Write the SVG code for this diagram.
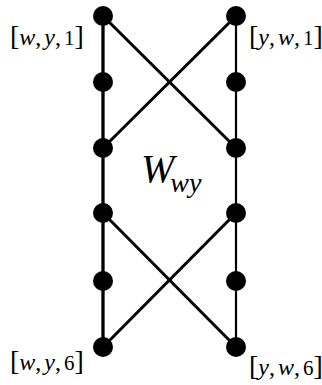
<svg xmlns="http://www.w3.org/2000/svg" width="322" height="385" viewBox="0 0 322 385">
<style>
.lbl{font-family:"Liberation Serif","Times New Roman",serif;font-size:24px;fill:#000}
.it{font-style:italic}
.br{font-size:28px}
.dg{font-size:21px}
.big{font-size:40px}
.sub{font-size:28px}
.e{stroke:#000;fill:none}
.n{fill:#000}
</style>
<rect width="322" height="385" fill="#fff"/>
<g id="connectors">
<line class="e" x1="103" y1="16" x2="103" y2="347" stroke-width="3.3"/>
<line class="e" x1="236" y1="16" x2="236" y2="347" stroke-width="2.2"/>
<line class="e" x1="103" y1="16" x2="236" y2="148" stroke-width="3"/>
<line class="e" x1="236" y1="16" x2="103" y2="148" stroke-width="3"/>
<line class="e" x1="103" y1="213" x2="236" y2="347" stroke-width="3"/>
<line class="e" x1="236" y1="213" x2="103" y2="347" stroke-width="3"/>
</g>
<g id="L1"><circle class="n" cx="103" cy="16" r="10"/></g>
<g id="L2"><circle class="n" cx="103" cy="82" r="10"/></g>
<g id="L3"><circle class="n" cx="103" cy="148" r="10"/></g>
<g id="L4"><circle class="n" cx="103" cy="213" r="10"/></g>
<g id="L5"><circle class="n" cx="103" cy="281" r="10"/></g>
<g id="L6"><circle class="n" cx="103" cy="347" r="10"/></g>
<g id="R1"><circle class="n" cx="236" cy="16" r="10"/></g>
<g id="R2"><circle class="n" cx="236" cy="82" r="10"/></g>
<g id="R3"><circle class="n" cx="236" cy="148" r="10"/></g>
<g id="R4"><circle class="n" cx="236" cy="213" r="10"/></g>
<g id="R5"><circle class="n" cx="236" cy="281" r="10"/></g>
<g id="R6"><circle class="n" cx="236" cy="347" r="10"/></g>
<g id="label-wy1"><text class="lbl" x="10" y="45"><tspan class="br">[</tspan><tspan class="it">w</tspan>,<tspan class="it" dx="3">y</tspan>,<tspan class="dg" dx="3">1</tspan><tspan class="br">]</tspan></text></g>
<g id="label-yw1"><text class="lbl" x="249" y="45"><tspan class="br">[</tspan><tspan class="it">y</tspan>,<tspan class="it" dx="3">w</tspan>,<tspan class="dg" dx="3">1</tspan><tspan class="br">]</tspan></text></g>
<g id="label-wy6"><text class="lbl" x="10" y="370"><tspan class="br">[</tspan><tspan class="it">w</tspan>,<tspan class="it" dx="3">y</tspan>,<tspan class="dg" dx="3">6</tspan><tspan class="br">]</tspan></text></g>
<g id="label-yw6"><text class="lbl" x="249" y="375"><tspan class="br">[</tspan><tspan class="it">y</tspan>,<tspan class="it" dx="3">w</tspan>,<tspan class="dg" dx="3">6</tspan><tspan class="br">]</tspan></text></g>
<g id="label-W"><text class="lbl it big" x="141" y="182">W<tspan class="sub" dx="-4" dy="10">wy</tspan></text></g>
</svg>
